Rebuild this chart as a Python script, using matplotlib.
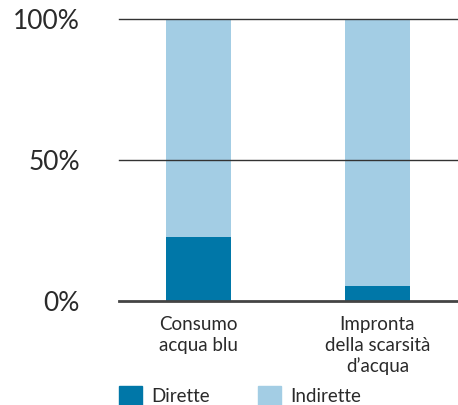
import matplotlib.pyplot as plt
from matplotlib.patches import Patch

plt.rcParams['font.family'] = ['Lato', 'DejaVu Sans']

categories = ['Consumo\nacqua blu', 'Impronta\ndella scarsità\nd\u2019acqua']
dirette = [22.7, 5.3]
indirette = [100 - v for v in dirette]
yticks = [0, 50, 100]
ytick_labels = ['0%', '50%', '100%']

col_dir = '#0077a8'
col_ind = '#a3cde4'
txt = '#2a2a2a'

fig = plt.figure(figsize=(4.58, 4.05), dpi=100)
ax = fig.add_axes([119/458, 1 - 301/405, 338/458, 282/405])

x = range(len(categories))
ax.bar(x, dirette, width=0.363, color=col_dir, zorder=2)
ax.bar(x, indirette, width=0.363, bottom=dirette, color=col_ind, zorder=2)

for y in yticks[1:]:
    ax.axhline(y, color='#333333', lw=1, zorder=3, clip_on=False)
ax.axhline(0, color='#444444', lw=2, zorder=3, clip_on=False)

ax.set_xlim(-0.445, 1.445)
ax.set_ylim(0, 100)
ax.set_yticks(yticks)
ax.set_yticklabels(ytick_labels, fontsize=19, color=txt)
ax.tick_params(axis='y', length=0, pad=28)
ax.set_xticks(list(x))
ax.set_xticklabels(categories, fontsize=13.5, color=txt, linespacing=1.25)
ax.tick_params(axis='x', length=0, pad=11)
for s in ax.spines.values():
    s.set_visible(False)

handles = [Patch(color=col_dir, label='Dirette'), Patch(color=col_ind, label='Indirette')]
fig.legend(handles=handles, loc='lower left', bbox_to_anchor=(119/458, 0.0),
           ncol=2, frameon=False, fontsize=13.5, handlelength=1.2, handleheight=1.2,
           handletextpad=0.5, columnspacing=2.6, borderpad=0, borderaxespad=0,
           labelcolor=txt)

fig.savefig('out.png', dpi=100)
